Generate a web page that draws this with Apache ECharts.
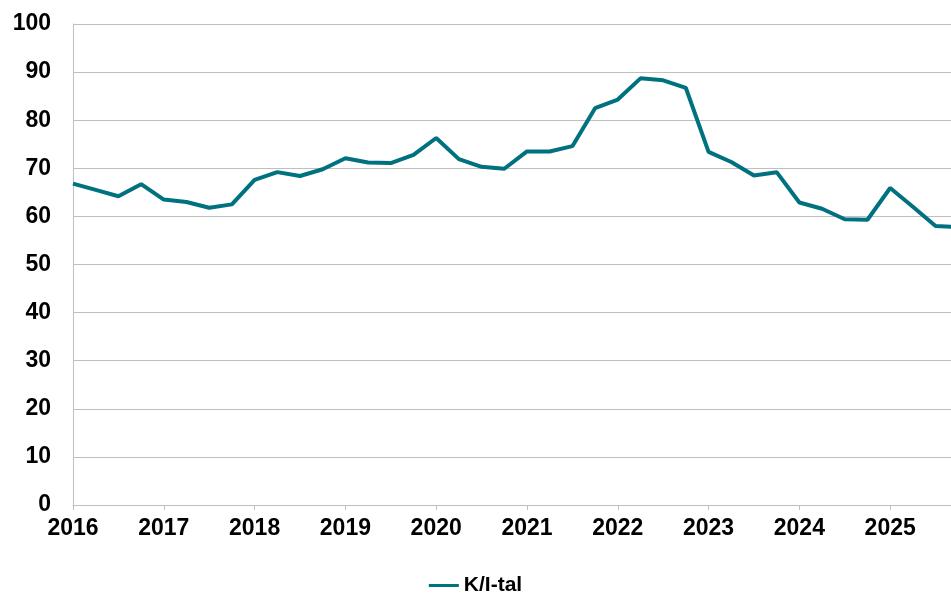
<!DOCTYPE html>
<html>
<head>
<meta charset="utf-8">
<script src="https://cdn.jsdelivr.net/npm/echarts@6/dist/echarts.min.js"></script>
<style>
html, body { margin: 0; padding: 0; background: #fff; }
#chart { width: 951px; height: 594px; }
</style>
</head>
<body>
<div id="chart"></div>
<script>
// quarterly K/I-tal, first point of each year sits on the year tick
var years = [2016, 2017, 2018, 2019, 2020, 2021, 2022, 2023, 2024, 2025];
var kiTal = [
    66.8, 65.5, 64.2, 66.7,
    63.5, 63.0, 61.8, 62.5,
    67.6, 69.2, 68.4, 69.8,
    72.1, 71.2, 71.1, 72.8,
    76.3, 71.9, 70.3, 69.9,
    73.5, 73.5, 74.6, 82.5,
    84.3, 88.7, 88.3, 86.7,
    73.4, 71.3, 68.5, 69.2,
    62.9, 61.6, 59.4, 59.3,
    65.9, 62.0, 58.0, 57.8
];
var seriesName = 'K/I-tal';
var yTicks = [0, 10, 20, 30, 40, 50, 60, 70, 80, 90, 100];

var points = kiTal.map(function (v, i) {
    return [years[Math.floor(i / 4)] + (i % 4) / 4, v];
});

var font = "'Liberation Sans', Arial, sans-serif";
var myChart = echarts.init(document.getElementById('chart'));
myChart.setOption({
    animation: false,
    grid: { left: 73, right: 0, top: 24, bottom: 89 },
    legend: {
        data: [seriesName],
        top: 570,
        left: 'center',
        icon: 'rect',
        itemWidth: 30,
        itemHeight: 3,
        itemGap: 4,
        textStyle: { fontFamily: font, fontWeight: 'bold', fontSize: 21, color: '#000' }
    },
    xAxis: {
        type: 'value',
        min: years[0],
        max: 2025.67,
        interval: 1,
        axisLine: { lineStyle: { color: '#bfbfbf', width: 1 } },
        axisTick: { show: true, length: 5, lineStyle: { color: '#bfbfbf' } },
        splitLine: { show: false },
        axisLabel: {
            showMaxLabel: false,
            margin: 12,
            fontFamily: font, fontWeight: 'bold', fontSize: 23, color: '#000',
            formatter: function (v) { return String(Math.round(v)); }
        }
    },
    yAxis: {
        type: 'value',
        min: yTicks[0],
        max: yTicks[yTicks.length - 1],
        interval: 10,
        axisLine: { show: true, lineStyle: { color: '#bfbfbf', width: 1 } },
        axisTick: { show: false },
        splitLine: { lineStyle: { color: '#bfbfbf', width: 1 } },
        axisLabel: {
            margin: 22,
            fontFamily: font, fontWeight: 'bold', fontSize: 23, color: '#000'
        }
    },
    series: [{
        name: seriesName,
        type: 'line',
        data: points,
        symbol: 'none',
        clip: true,
        color: '#00717f',
        lineStyle: { width: 4, color: '#00717f' }
    }]
});
</script>
</body>
</html>
